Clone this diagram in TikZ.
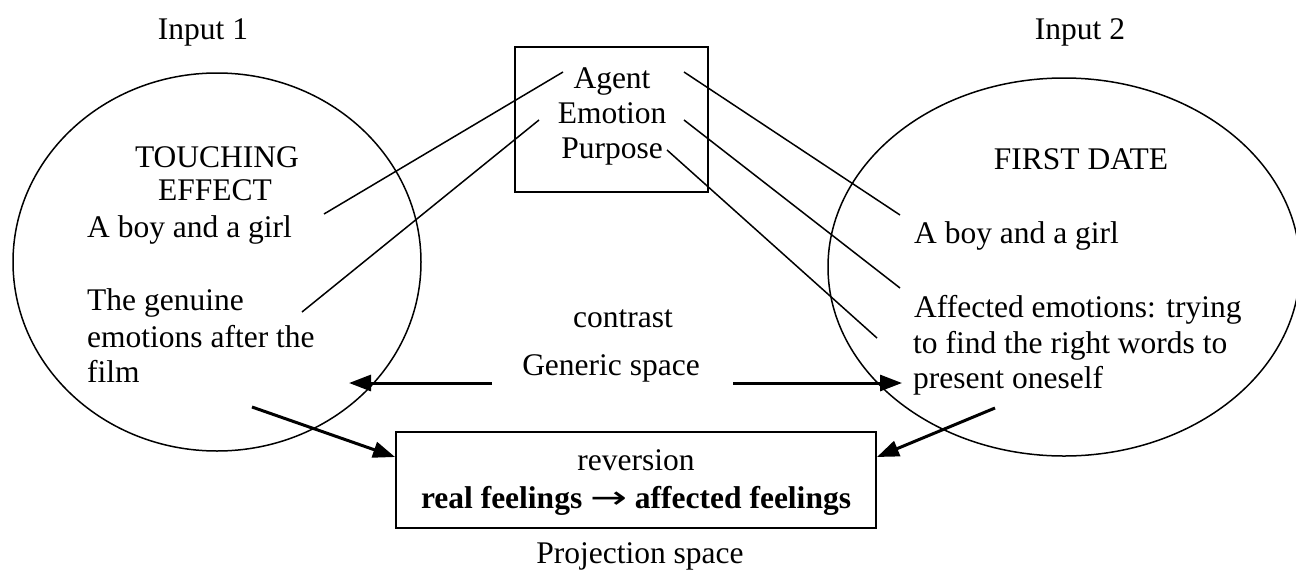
\documentclass[tikz,border=0pt]{standalone}
\usepackage{fontspec}
\setmainfont{Liberation Serif}
\newfontfamily\djv{DejaVu Sans}
\usetikzlibrary{arrows.meta,shapes.geometric}
\begin{document}
\begin{tikzpicture}[x=1pt,y=-1pt,
  txt/.style={anchor=base,inner sep=0pt,font=\fontsize{31.5}{36}\selectfont},
  txtl/.style={txt,anchor=base west},
  thinline/.style={line width=1.5pt},
  frame/.style={draw,line width=1.9pt,inner sep=0pt},
  oval/.style={ellipse,draw,line width=1.5pt,inner sep=0pt},
  bigarrow/.style={line width=3pt,-{Triangle[length=22pt,width=16pt]}}]
\useasboundingbox (0,0) rectangle (1296,571);
\fill[white] (0,0) rectangle (1296,571);

% input spaces
\node[oval,minimum width=408pt,minimum height=378pt] (e1) at (217,262) {};
\node[oval,minimum width=472pt,minimum height=378pt] (e2) at (1064,267) {};

% boxes
\node[frame,minimum width=193pt,minimum height=145pt] (gen) at (611.5,119.5) {};
\node[frame,minimum width=480pt,minimum height=96pt] (proj) at (636,480) {};

% titles
\node[txt] (in1) at (203,39) {Input 1};
\node[txt] (in2) at (1080,39) {Input 2};

% generic box texts
\node[txt] (agent) at (612,88) {Agent};
\node[txt] (emotion) at (612,123) {Emotion};
\node[txt] (purpose) at (612,158) {Purpose};

% left ellipse texts
\node[txt] (touch) at (217,167) {TOUCHING};
\node[txt] (effect) at (215,200) {EFFECT};
\node[txtl] (lboy) at (87,237) {A boy and a girl};
\node[txtl] (lgen1) at (87,310) {The genuine};
\node[txtl] (lgen2) at (87,347) {emotions after the};
\node[txtl] (lgen3) at (87,382) {film};

% right ellipse texts
\node[txt] (first) at (1081,169) {FIRST DATE};
\node[txtl] (rboy) at (914,243) {A boy and a girl};
\node[txtl] (raff1) at (914,317) {Affected emotions: trying};
\node[txtl] (raff2) at (913,353) {to find the right words to};
\node[txtl] (raff3) at (913,388) {present oneself};

% middle texts
\node[txt] (contrast) at (623,327) {contrast};
\node[txt] (generic) at (611,375) {Generic space};
\node[txt] (rev) at (636,470) {reversion};
\node[txt] (real) at (636,508) {\bfseries real feelings {\djv\mdseries\scalebox{1.4}[1]{→}} affected feelings};
\node[txt] (projl) at (640,563) {Projection space};

% connector end points
\coordinate (a1) at (563,72);
\coordinate (a2) at (324,214);
\coordinate (b1) at (539,120);
\coordinate (b2) at (302,312);
\coordinate (c1) at (684,72);
\coordinate (c2) at (900,215);
\coordinate (d1) at (684,120);
\coordinate (d2) at (900,288);
\coordinate (f1) at (667,150);
\coordinate (f2) at (877,338);

\draw[thinline] (a1) -- (a2);
\draw[thinline] (b1) -- (b2);
\draw[thinline] (c1) -- (c2);
\draw[thinline] (d1) -- (d2);
\draw[thinline] (f1) -- (f2);

% arrows
\coordinate (g1) at (492,383);
\coordinate (g2) at (349,383);
\coordinate (h1) at (733,383);
\coordinate (h2) at (902,383);
\coordinate (p1) at (252,407);
\coordinate (p2) at (proj.west |- 0,457);
\coordinate (q1) at (995,408);
\coordinate (q2) at (proj.east |- 0,457);

\draw[bigarrow] (g1) -- (g2);
\draw[bigarrow] (h1) -- (h2);
\draw[bigarrow] (p1) -- (p2);
\draw[bigarrow] (q1) -- (q2);
\end{tikzpicture}
\end{document}
